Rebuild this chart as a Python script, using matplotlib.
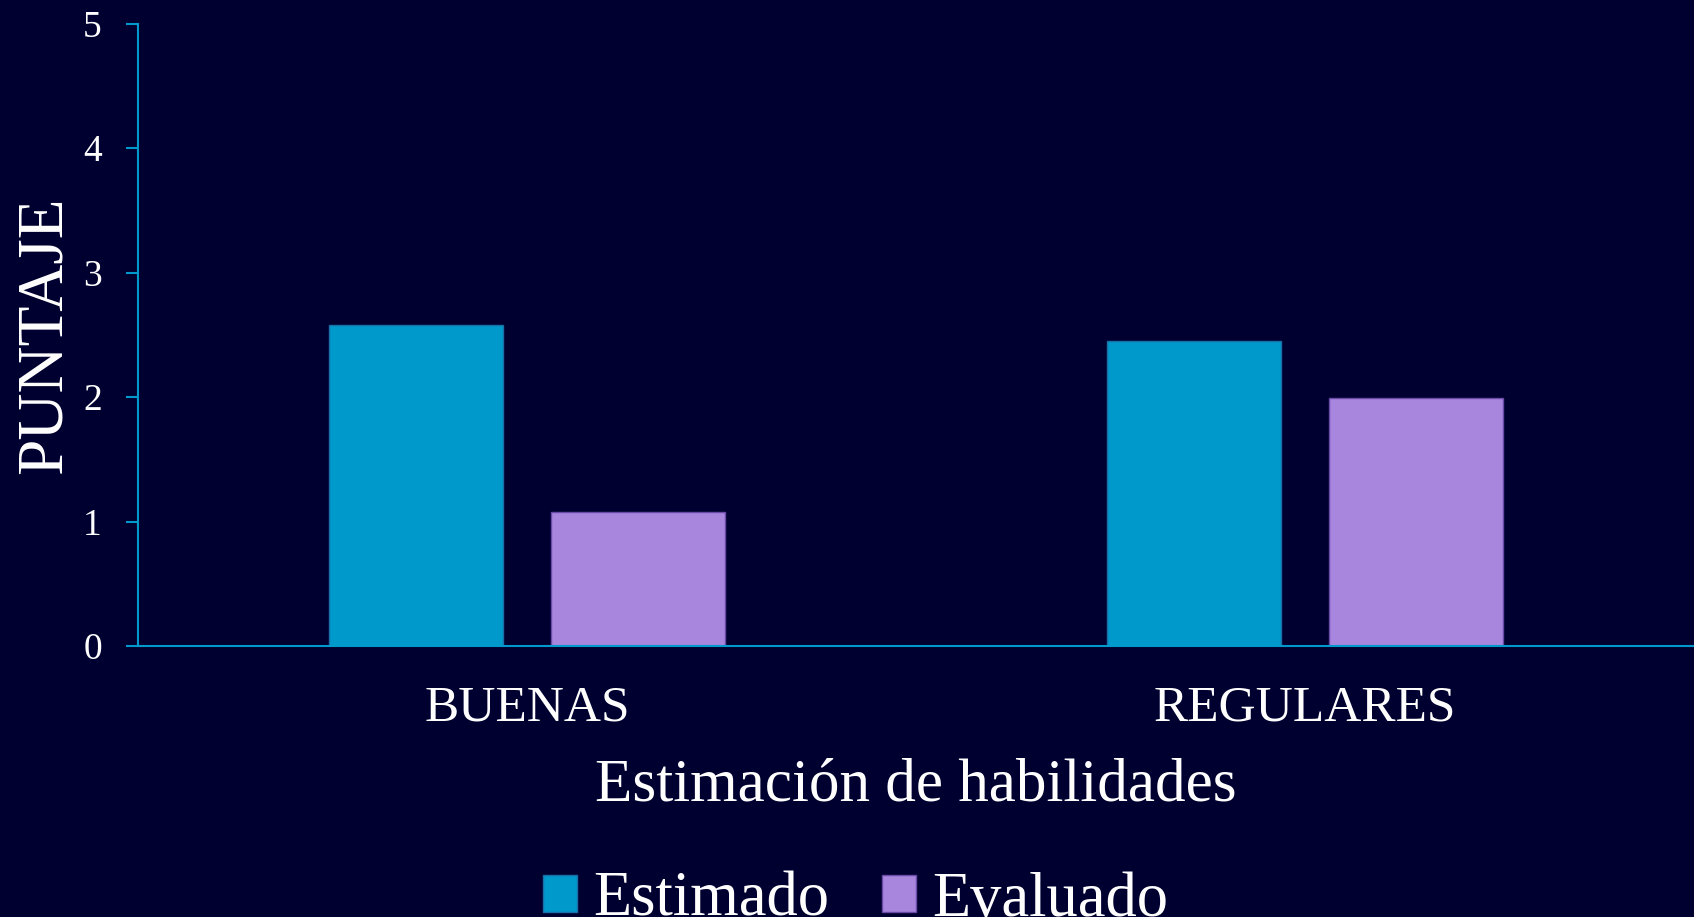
import matplotlib
matplotlib.use("Agg")
import matplotlib.pyplot as plt
import numpy as np

categories = ["BUENAS", "REGULARES"]
series_names = ["Estimado", "Evaluado"]
estimado = [2.58, 2.45]
evaluado = [1.08, 1.99]
y_ticks = [0, 1, 2, 3, 4, 5]

bg = "#000030"
c_est = "#0099CC"
c_eva = "#A886DE"
axis_col = "#0099CC"

plt.rcParams['font.family'] = ['Liberation Serif', 'DejaVu Serif']

fig = plt.figure(figsize=(16.94, 9.17), dpi=100, facecolor=bg)
ax = fig.add_axes([138/1694, 1-646/917, 1-138/1694, (646-23.8)/917])
ax.set_facecolor(bg)

x = np.arange(len(categories))
w = 0.2237
off = 0.1423
b1 = ax.bar(x - off, estimado, w, color=c_est, edgecolor="#1a6fa8", linewidth=1, label=series_names[0])
b2 = ax.bar(x + off, evaluado, w, color=c_eva, edgecolor="#6a4aa8", linewidth=1, label=series_names[1])

ax.set_xlim(-0.5, 1.5)
ax.set_ylim(0, 5)
ax.set_yticks(y_ticks)
ax.set_yticklabels([str(t) for t in y_ticks])
ax.set_xticks(x)
ax.set_xticklabels(categories)

for s in ["top", "right"]:
    ax.spines[s].set_visible(False)
for s in ["left", "bottom"]:
    ax.spines[s].set_color(axis_col)
    ax.spines[s].set_linewidth(1.5)

ax.tick_params(axis='y', colors=axis_col, length=9, width=1.5, direction='out', pad=17, labelsize=27, labelcolor='white')
ax.tick_params(axis='x', length=0, pad=28, labelsize=37, labelcolor='white')

ax.set_ylabel("PUNTAJE", fontsize=47, color='white', labelpad=6)
ax.set_xlabel("Estimación de habilidades", fontsize=44, color='white', labelpad=19)

leg = fig.legend(handles=[b1, b2], loc='lower center', bbox_to_anchor=(0.505, -0.075),
                 ncol=2, frameon=False, fontsize=45, labelcolor='white',
                 handlelength=0.55, handleheight=0.55, handletextpad=0.25, columnspacing=0.85)

fig.savefig("out.png", dpi=100, facecolor=bg)
